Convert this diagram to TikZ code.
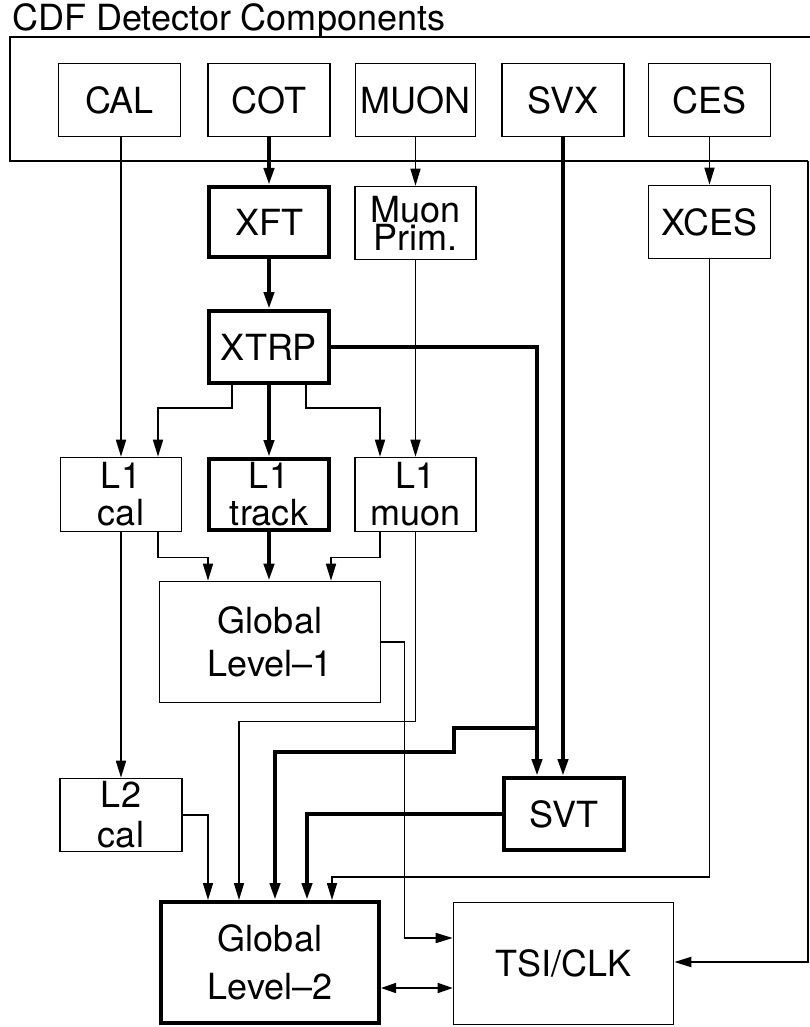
\documentclass[tikz,border=0pt]{standalone}
\usepackage{fontspec}
\setmainfont{TeX Gyre Heros}
\usetikzlibrary{arrows.meta,calc}
\begin{document}
\begin{tikzpicture}[x=1pt,y=-1pt,
  box/.style={draw, line width=1.6pt, inner sep=0pt, align=center, font=\fontsize{36}{37}\selectfont},
  tbox/.style={box, line width=4pt},
  thinln/.style={line width=1.6pt},
  thickln/.style={line width=4pt},
  arr/.style={-{Triangle[length=17pt,width=10pt]}},
  darr/.style={{Triangle[length=15pt,width=10pt]}-{Triangle[length=15pt,width=10pt]}},
]
\useasboundingbox (0,0) rectangle (810,1027);
\fill[white] (0,0) rectangle (810,1027);

% title and frame
\node[anchor=base west, inner sep=0pt, font=\fontsize{36}{37}\selectfont] (title) at (12,31) {CDF Detector Components};
\draw[thinln] (810,37) -- (10,37) -- (10,161) -- (808,161);

% detector components
\node[box, minimum width=122pt, minimum height=73pt] (CAL)  at (119.5,100) {CAL};
\node[box, minimum width=122pt, minimum height=73pt] (COT)  at (269,100) {COT};
\node[box, minimum width=120pt, minimum height=73pt] (MUON) at (415.5,100) {MUON};
\node[box, minimum width=122pt, minimum height=73pt] (SVX)  at (563,100) {SVX};
\node[box, minimum width=122pt, minimum height=73pt] (CES)  at (709.5,100) {CES};

% second row
\node[tbox, minimum width=120pt, minimum height=70pt] (XFT) at (269,222) {XFT};
\node[box, minimum width=121pt, minimum height=73pt, font=\fontsize{36}{28}\selectfont] (MuonPrim) at (415.5,223) {Muon\\Prim.};
\node[box, minimum width=122pt, minimum height=73pt] (XCES) at (709.5,222) {XCES};

\node[tbox, minimum width=120pt, minimum height=72pt] (XTRP) at (269,347) {XTRP};

% L1 row
\node[box, minimum width=121pt, minimum height=74pt] (L1cal) at (121,494.5) {L1\\cal};
\node[tbox, minimum width=120pt, minimum height=71pt] (L1track) at (269,494.5) {L1\\track};
\node[box, minimum width=121pt, minimum height=74pt] (L1muon) at (415.5,494.5) {L1\\muon};

\node[box, minimum width=221pt, minimum height=121pt, font=\fontsize{36}{43}\selectfont] (GL1) at (270,642) {Global\\Level–1};

\node[box, minimum width=122pt, minimum height=73pt, font=\fontsize{36}{40}\selectfont] (L2cal) at (121,815) {L2\\cal};
\node[tbox, minimum width=120pt, minimum height=72pt] (SVT) at (564,814) {SVT};

\node[tbox, minimum width=218pt, minimum height=121pt, font=\fontsize{36}{48}\selectfont] (GL2) at (270,962.5) {Global\\Level–2};
\node[box, minimum width=220pt, minimum height=122pt] (TSI) at (563.5,963.5) {TSI/CLK};

% connectors from detector components
\draw[thinln,arr] (L1cal.north |- CAL.south) -- (L1cal.north);
\draw[thickln,arr] (COT.south) -- (XFT.north);
\draw[thinln,arr] (MUON.south) -- (MuonPrim.north);
\draw[thickln,arr] (SVX.south) -- (SVX.south |- SVT.north);
\draw[thinln,arr] (CES.south) -- (XCES.north);

% XFT, Muon Prim, XCES
\draw[thickln,arr] (XFT.south) -- (XTRP.north);
\draw[thinln,arr] (MuonPrim.south) -- (L1muon.north);
\draw[thinln,arr] (XCES.south) |- (332,877) -- ([xshift=62pt]GL2.north);

% XTRP outputs
\draw[thinln,arr] ([xshift=-37pt]XTRP.south) -- ++(0,23) -| ([xshift=37pt]L1cal.north);
\draw[thickln,arr] (XTRP.south) -- (L1track.north);
\draw[thinln,arr] ([xshift=37pt]XTRP.south) -- ++(0,23) -| ([xshift=-35.5pt]L1muon.north);
\draw[thickln,arr] (XTRP.east) -| ([xshift=-27pt]SVT.north);
\draw[thickln,arr] (537,728) -- (454,728) -- (454,752) -| ([xshift=5pt]GL2.north);

% L1 outputs
\draw[thinln,arr] (L1cal.south) -- (L2cal.north);
\draw[thinln,arr] ([xshift=37pt]L1cal.south) -- ++(0,25) -| ([xshift=-62pt]GL1.north);
\draw[thickln,arr] (L1track.south) -- (L1track.south |- GL1.north);
\draw[thinln,arr] ([xshift=-35.5pt]L1muon.south) -- ++(0,25) -| ([xshift=61pt]GL1.north);
\draw[thinln,arr] (L1muon.south) -- ++(0,189) -| ([xshift=-31pt]GL2.north);

% Global Level-1 to TSI/CLK
\draw[thinln,arr] (GL1.east) -- ++(23,0) |- ([yshift=25.5pt]TSI.west);

% L2 cal and SVT to Global Level-2
\draw[thinln,arr] (L2cal.east) -| ([xshift=-62pt]GL2.north);
\draw[thickln,arr] (SVT.west) -| ([xshift=37pt]GL2.north);

% Global Level-2 <-> TSI/CLK
\coordinate (dl) at ([yshift=-25.5pt]GL2.east);
\draw[thinln,darr] (dl) -- (dl -| TSI.west);

% frame to TSI/CLK
\draw[line width=2pt,arr] (808,161) |- ([yshift=1.5pt]TSI.east);
\end{tikzpicture}
\end{document}
